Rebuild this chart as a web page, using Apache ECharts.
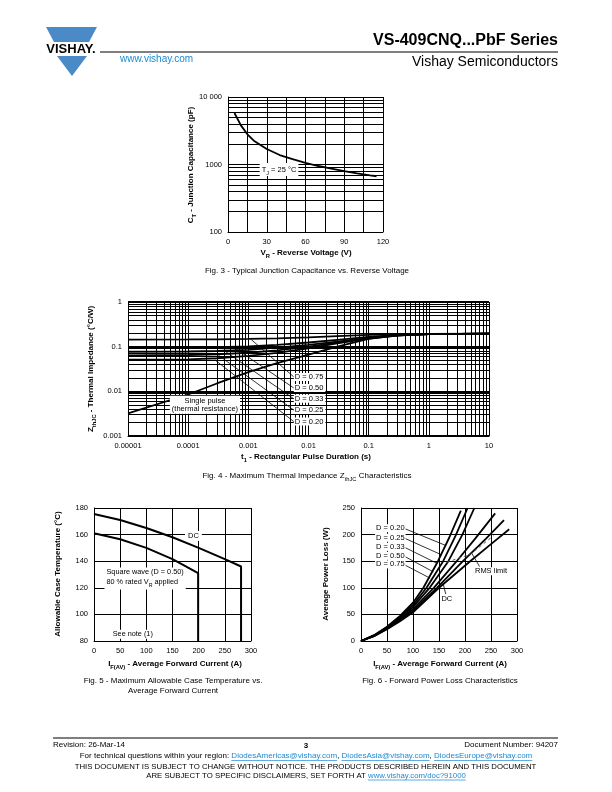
<!DOCTYPE html>
<html lang="en">
<head>
<meta charset="UTF-8">
<title>VS-409CNQ...PbF Series</title>
<script src="https://cdn.jsdelivr.net/npm/echarts@6/dist/echarts.min.js"></script>
<style>
    html, body { margin: 0; padding: 0; background: #fff; }
    #page { width: 612px; height: 792px; }
</style>
</head>
<body>
<div id="page"></div>
<script>
    // Fig. 3 - junction capacitance vs reverse voltage
    var capV = [5, 10, 15, 20, 30, 40, 50, 60, 70, 80, 90, 100, 110, 115];
    var capC = [5800, 3800, 2800, 2250, 1700, 1380, 1200, 1060, 950, 870, 800, 740, 690, 670];

    // Fig. 4 - thermal impedance
    var pulseT = [1e-5, 1e-4, 3e-4, 1e-3, 3e-3, 1e-2, 3e-2, 0.1, 0.3, 1, 10];
    var zSingle = [0.0032, 0.0085, 0.015, 0.027, 0.043, 0.066, 0.1, 0.15, 0.18, 0.19, 0.195];
    var zD75 = [0.144, 0.145, 0.146, 0.149, 0.154, 0.162, 0.172, 0.183, 0.19, 0.193, 0.195];
    var zD50 = [0.094, 0.095, 0.097, 0.102, 0.11, 0.124, 0.142, 0.165, 0.183, 0.19, 0.195];
    var zD33 = [0.077, 0.078, 0.08, 0.085, 0.095, 0.11, 0.13, 0.158, 0.18, 0.19, 0.195];
    var zD25 = [0.064, 0.065, 0.067, 0.073, 0.083, 0.1, 0.123, 0.155, 0.179, 0.19, 0.195];
    var zD20 = [0.051, 0.052, 0.055, 0.062, 0.073, 0.092, 0.118, 0.152, 0.178, 0.19, 0.195];
    var dutyNames = ['D = 0.75', 'D = 0.50', 'D = 0.33', 'D = 0.25', 'D = 0.20'];

    // Fig. 5 - allowable case temperature
    var dcI = [0, 50, 100, 150, 200, 250, 281, 281];
    var dcT = [175.5, 171, 165, 158, 150, 141.5, 136, 80];
    var sqI = [0, 50, 100, 150, 199, 199];
    var sqT = [161, 156.5, 150, 141.5, 131, 80];

    // Fig. 6 - forward power loss
    var lossI20 = [0, 25, 50, 75, 100, 120, 148, 170, 192];
    var lossP20 = [0, 11, 27, 47, 72, 100, 150, 195, 245];
    var lossI25 = [0, 25, 50, 75, 100, 126, 158, 182, 205];
    var lossP25 = [0, 10, 26, 45, 68, 100, 150, 198, 250];
    var lossI33 = [0, 25, 50, 75, 100, 132, 168, 195, 218];
    var lossP33 = [0, 10, 25, 43, 64, 100, 150, 200, 250];
    var lossI50 = [0, 25, 50, 75, 100, 140, 184, 220, 258];
    var lossP50 = [0, 10, 24, 41, 60, 100, 150, 193, 240];
    var lossI75 = [0, 25, 50, 75, 100, 146, 196, 240, 275];
    var lossP75 = [0, 9, 23, 39, 57, 100, 150, 192, 227];
    var lossIdc = [0, 25, 50, 75, 100, 150, 210, 250, 285];
    var lossPdc = [0, 9, 22, 37, 54, 100, 150, 182, 210];
    var rmsI = [165, 210, 255];
    var rmsP = [148, 163, 198];

    var FONT = '"Liberation Sans", Arial, sans-serif';
    var BLUE = '#1d8ad1';

    function pairs(xs, ys) {
        return xs.map(function (x, i) { return [x, ys[i]]; });
    }

    // minor grid positions of a log axis (2..9 of every decade)
    function logMinors(e0, e1) {
        var out = [];
        for (var e = e0; e < e1; e++) {
            for (var k = 2; k <= 9; k++) out.push(+(k * Math.pow(10, e)).toPrecision(3));
        }
        return out;
    }

    function gridLines(idx, xs, ys) {
        var d = [];
        xs.forEach(function (v) { d.push({xAxis: v}); });
        ys.forEach(function (v) { d.push({yAxis: v}); });
        return {
            type: 'line', xAxisIndex: idx, yAxisIndex: idx, data: [], silent: true, z: 1,
            markLine: {
                silent: true, symbol: 'none', animation: false, label: {show: false}, precision: 12,
                lineStyle: {color: '#000', width: 1, type: 'solid'}, data: d
            }
        };
    }

    function curve(idx, data, w) {
        return {
            type: 'line', xAxisIndex: idx, yAxisIndex: idx, data: data, showSymbol: false,
            smooth: false, silent: true, z: 3, animation: false,
            lineStyle: {color: '#000', width: w || 1.8}
        };
    }

    function axis(o) {
        var a = {
            axisLine: {show: true, onZero: false, lineStyle: {color: '#000', width: 1}},
            axisTick: {show: false},
            splitLine: {show: true, lineStyle: {color: '#000', width: 1}},
            axisLabel: {color: '#000', fontFamily: FONT, fontSize: 7.5, margin: 6}
        };
        for (var k in o) {
            if (k === 'axisLabel') {
                for (var j in o[k]) a.axisLabel[j] = o[k][j];
            } else a[k] = o[k];
        }
        return a;
    }

    function logLabel(v) {
        if (v >= 1) return String(Math.round(v));
        return v.toFixed(Math.round(-Math.log10(v)));
    }

    var chart = echarts.init(document.getElementById('page'));

    var option = {
        animation: false,
        grid: [
            {left: 228, top: 97, width: 155, height: 135},
            {left: 128, top: 302, width: 361, height: 134},
            {left: 94, top: 508, width: 157, height: 133},
            {left: 361, top: 508, width: 156, height: 133}
        ],
        xAxis: [
            axis({type: 'value', gridIndex: 0, min: 0, max: 120, interval: 15,
                axisLabel: {formatter: function (v) { return v % 30 === 0 ? v : ''; }}}),
            axis({type: 'log', gridIndex: 1, min: 1e-5, max: 10, logBase: 10,
                axisLabel: {formatter: logLabel}}),
            axis({type: 'value', gridIndex: 2, min: 0, max: 300, interval: 50}),
            axis({type: 'value', gridIndex: 3, min: 0, max: 300, interval: 50})
        ],
        yAxis: [
            axis({type: 'log', gridIndex: 0, min: 100, max: 10000, logBase: 10,
                axisLabel: {formatter: function (v) { return v >= 10000 ? '10 000' : String(Math.round(v)); }}}),
            axis({type: 'log', gridIndex: 1, min: 0.001, max: 1, logBase: 10,
                splitLine: {show: true, lineStyle: {color: '#000', width: 1.8}},
                axisLabel: {formatter: logLabel}}),
            axis({type: 'value', gridIndex: 2, min: 80, max: 180, interval: 20}),
            axis({type: 'value', gridIndex: 3, min: 0, max: 250, interval: 50})
        ],
        series: [
            gridLines(0, [], logMinors(2, 4)),
            curve(0, pairs(capV, capC)),

            gridLines(1, logMinors(-5, 1), logMinors(-3, 0)),
            curve(1, pairs(pulseT, zSingle)),
            curve(1, pairs(pulseT, zD75)),
            curve(1, pairs(pulseT, zD50)),
            curve(1, pairs(pulseT, zD33)),
            curve(1, pairs(pulseT, zD25)),
            curve(1, pairs(pulseT, zD20)),

            curve(2, pairs(dcI, dcT), 2),
            curve(2, pairs(sqI, sqT), 2),

            curve(3, pairs(lossI20, lossP20)),
            curve(3, pairs(lossI25, lossP25)),
            curve(3, pairs(lossI33, lossP33)),
            curve(3, pairs(lossI50, lossP50)),
            curve(3, pairs(lossI75, lossP75)),
            curve(3, pairs(lossIdc, lossPdc)),
            {
                type: 'line', xAxisIndex: 3, yAxisIndex: 3, data: pairs(rmsI, rmsP), showSymbol: false,
                silent: true, z: 4, lineStyle: {color: '#555', width: 1, type: [3, 3]}
            }
        ]
    };
    chart.setOption(option);

    // ---------- texts and annotations ----------
    var els = [];

    function text(x, y, t, font, opt) {
        opt = opt || {};
        var st = {
            text: t, font: font, fill: opt.fill || '#000',
            textAlign: opt.align || 'center', textVerticalAlign: 'middle',
            align: opt.align || 'center', verticalAlign: 'middle'
        };
        if (opt.bg) { st.backgroundColor = '#fff'; st.padding = opt.pad || [1, 2]; }
        if (opt.rich) st.rich = opt.rich;
        var el = {type: 'text', x: x, y: y, z: 10, silent: true, style: st};
        if (opt.rot) el.rotation = opt.rot;
        els.push(el);
    }

    function line(p1, p2, w, color) {
        els.push({type: 'line', z: 9, silent: true,
            shape: {x1: p1[0], y1: p1[1], x2: p2[0], y2: p2[1]},
            style: {stroke: color || '#000', lineWidth: w || 0.8}});
    }

    function px(g, x, y) { return chart.convertToPixel({gridIndex: g}, [x, y]); }

    function richFor(size, bold) {
        return {
            n: {fontSize: size, fontFamily: FONT, fontWeight: bold ? 'bold' : 'normal', lineHeight: 13},
            s: {fontSize: size * 0.72, fontFamily: FONT, fontWeight: bold ? 'bold' : 'normal', verticalAlign: 'bottom', lineHeight: 13}
        };
    }

    var AX = 'bold 8px ' + FONT;
    var CAP = '8px ' + FONT;

    // header
    els.push({type: 'polygon', silent: true, shape: {points: [[46, 27], [97, 27], [89, 42], [54, 42]]}, style: {fill: '#4a8ac6'}});
    els.push({type: 'polygon', silent: true, shape: {points: [[57, 56], [87, 56], [72, 76]]}, style: {fill: '#4a8ac6'}});
    text(71, 49, 'VISHAY.', 'bold 13px ' + FONT);
    line([100, 52], [558, 52], 1.2);
    text(558, 41, 'VS-409CNQ...PbF Series', 'bold 16px ' + FONT, {align: 'right'});
    text(558, 62, 'Vishay Semiconductors', '14px ' + FONT, {align: 'right'});
    text(120, 59, 'www.vishay.com', '10px ' + FONT, {align: 'left', fill: BLUE});

    // Fig 3 texts
    text(191, 165, '{n|C}{s|T}{n| - Junction Capacitance (pF)}', AX, {rot: Math.PI / 2, rich: richFor(8, true)});
    text(306, 253, '{n|V}{s|R}{n| - Reverse Voltage (V)}', AX, {rich: richFor(8, true)});
    text(307, 271, 'Fig. 3 - Typical Junction Capacitance vs. Reverse Voltage', CAP);
    var tj = px(0, 39.5, 840);
    text(tj[0], tj[1], '{n|T}{s|J}{n| = 25 °C}', '7.5px ' + FONT, {bg: true, pad: [0, 2], rich: richFor(7.5, false)});

    // Fig 4 texts
    text(91, 369, '{n|Z}{s|thJC}{n| - Thermal Impedance (°C/W)}', AX, {rot: Math.PI / 2, rich: richFor(8, true)});
    text(306, 457, '{n|t}{s|1}{n| - Rectangular Pulse Duration (s)}', AX, {rich: richFor(8, true)});
    text(307, 476, '{n|Fig. 4 - Maximum Thermal Impedance Z}{s|thJC}{n| Characteristics}', CAP, {rich: richFor(8, false)});
    var dStart = [[1.12e-3, 0.144], [5.9e-4, 0.094], [4.1e-4, 0.079], [3.2e-4, 0.064], [2.76e-4, 0.051]];
    var dLabelZ = [0.021, 0.0119, 0.0068, 0.0038, 0.0021];
    dutyNames.forEach(function (name, i) {
        var a = px(1, dStart[i][0], dStart[i][1]);
        var b = px(1, 5.7e-3, dLabelZ[i]);
        line(a, b, 0.8);
        text(b[0], b[1], name, '7.5px ' + FONT, {align: 'left', bg: true, pad: [0, 2, 0, 1]});
    });
    var sp = px(1, 1.9e-4, 0.005);
    text(sp[0], sp[1], 'Single pulse\n(thermal resistance)', '7.5px ' + FONT, {bg: true, pad: [1, 2]});

    // Fig 5 texts
    text(58, 574, 'Allowable Case Temperature (°C)', AX, {rot: Math.PI / 2});
    text(175, 664, '{n|I}{s|F(AV)}{n| - Average Forward Current (A)}', AX, {rich: richFor(8, true)});
    text(173, 681, 'Fig. 5 - Maximum Allowable Case Temperature vs.', CAP);
    text(173, 691, 'Average Forward Current', CAP);
    var dc = px(2, 190, 159);
    text(dc[0], dc[1], 'DC', '7.5px ' + FONT, {bg: true, pad: [1, 3]});
    var sq = px(2, 20, 127);
    text(sq[0], sq[1], 'Square wave (D = 0.50)\n{n|80 % rated V}{s|R}{n| applied}', '7.3px ' + FONT,
        {align: 'left', bg: true, pad: [1, 2], rich: richFor(7.3, false)});
    var sn = px(2, 30, 85);
    text(sn[0], sn[1], 'See note (1)', '7.3px ' + FONT, {align: 'left', bg: true, pad: [1, 3]});

    // Fig 6 texts
    text(326, 574, 'Average Power Loss (W)', AX, {rot: Math.PI / 2});
    text(440, 664, '{n|I}{s|F(AV)}{n| - Average Forward Current (A)}', AX, {rich: richFor(8, true)});
    text(440, 681, 'Fig. 6 - Forward Power Loss Characteristics', CAP);
    var lossLabelP = [212, 194, 177, 160, 144];
    var lossTarget = [[162, 180], [155, 162], [146, 146], [139, 130], [133, 118]];
    ['D = 0.20', 'D = 0.25', 'D = 0.33', 'D = 0.50', 'D = 0.75'].forEach(function (name, i) {
        var a = px(3, 27, lossLabelP[i]);
        var b = px(3, 82, lossLabelP[i]);
        var c = px(3, lossTarget[i][0], lossTarget[i][1]);
        line(b, c, 0.8);
        text(a[0], a[1], name, '7.5px ' + FONT, {align: 'left', bg: true, pad: [0, 1]});
    });
    var dcl = px(3, 165, 80);
    line(px(3, 163, 88), px(3, 158, 108), 0.8);
    text(dcl[0], dcl[1], 'DC', '7.5px ' + FONT, {bg: true, pad: [0, 1]});
    var rl = px(3, 250, 131);
    line(px(3, 228, 140), px(3, 213, 165), 0.8);
    text(rl[0], rl[1], 'RMS limit', '7.5px ' + FONT, {bg: true, pad: [0, 1]});

    // footer
    var mctx = document.createElement('canvas').getContext('2d');
    function measure(t, font) { mctx.font = font; return mctx.measureText(t).width; }
    function segLine(segs, cx, y, font) {
        var total = 0;
        segs.forEach(function (s) { total += measure(s.t, font); });
        var x = cx - total / 2;
        segs.forEach(function (s) {
            var w = measure(s.t, font);
            text(x, y, s.t, font, {align: 'left', fill: s.link ? BLUE : '#000'});
            if (s.link) line([x, y + 4.5], [x + w, y + 4.5], 0.7, BLUE);
            x += w;
        });
    }
    line([53, 738], [558, 738], 1.2);
    text(53, 744.5, 'Revision: 26-Mar-14', '8px ' + FONT, {align: 'left'});
    text(306, 745.5, '3', 'bold 8px ' + FONT);
    text(558, 744.5, 'Document Number: 94207', '8px ' + FONT, {align: 'right'});
    var FF = '8px ' + FONT;
    segLine([
        {t: 'For technical questions within your region: '},
        {t: 'DiodesAmericas@vishay.com', link: true},
        {t: ', '},
        {t: 'DiodesAsia@vishay.com', link: true},
        {t: ', '},
        {t: 'DiodesEurope@vishay.com', link: true}
    ], 306, 756, FF);
    segLine([{t: 'THIS DOCUMENT IS SUBJECT TO CHANGE WITHOUT NOTICE. THE PRODUCTS DESCRIBED HEREIN AND THIS DOCUMENT'}], 305.5, 766.5, '7.8px ' + FONT);
    segLine([
        {t: 'ARE SUBJECT TO SPECIFIC DISCLAIMERS, SET FORTH AT '},
        {t: 'www.vishay.com/doc?91000', link: true}
    ], 306, 775.5, '7.8px ' + FONT);

    chart.setOption({graphic: {elements: els}});
</script>
</body>
</html>
